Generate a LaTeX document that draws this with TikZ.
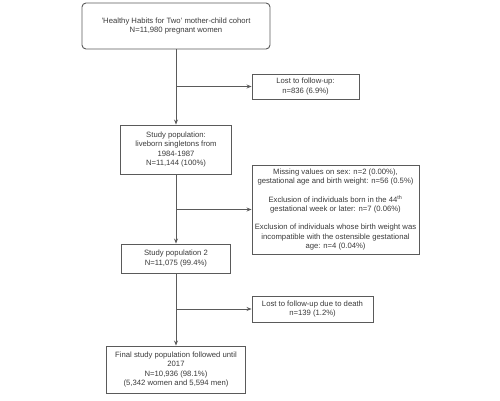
\documentclass[tikz,border=0pt]{standalone}
\usepackage{fontspec}
\setmainfont{Liberation Sans}
\usetikzlibrary{arrows.meta, positioning, calc}
\definecolor{lineGray}{HTML}{5A5A5A}
\definecolor{textGray}{HTML}{3A3A3A}

\begin{document}
\begin{tikzpicture}[
    x=1pt, y=-1pt, >={Stealth[length=5pt, width=4pt]},
    box/.style={rectangle, draw=lineGray, line width=0.9pt, align=center,
                font=\fontsize{7.7}{9.3}\selectfont\color{textGray}, inner sep=1pt},
    start/.style={box, rounded corners=4pt},
    flow/.style={->, draw=lineGray, line width=0.8pt},
  ]
    \useasboundingbox (0,0) rectangle (500,401);

    % main column
    \node[start, minimum width=188pt, minimum height=46pt] (cohort) at (176,26)
      {'Healthy Habits for Two' mother-child cohort\\N=11,980 pregnant women};
    \node[box, minimum width=111pt, minimum height=49pt] (study1) at (176,149.5)
      {Study population:\\liveborn singletons from\\1984-1987\\N=11,144 (100\%)};
    \node[box, minimum width=109pt, minimum height=29pt] (study2) at (176,258.5)
      {Study population 2\\N=11,075 (99.4\%)};
    \node[box, minimum width=139pt, minimum height=47pt] (final) at (176,369.5)
      {Final study population followed until\\2017\\N=10,936 (98.1\%)\\(5,342 women and 5,594 men)};

    % exclusions
    \node[box, minimum width=107pt, minimum height=25pt] (lost1) at (305.5,86.5)
      {Lost to follow-up:\\n=836 (6.9\%)};
    \node[box, minimum width=167pt, minimum height=89pt] (excl) at (335.5,209.5)
      {Missing values on sex: n=2 (0.00\%),\\gestational age and birth weight: n=56 (0.5\%)\\[9pt]
       Exclusion of individuals born in the 44\textsuperscript{th}\\gestational week or later: n=7 (0.06\%)\\[9pt]
       Exclusion of individuals whose birth weight was\\incompatible with the ostensible gestational\\age: n=4 (0.04\%)};
    \node[box, minimum width=121pt, minimum height=26pt] (death) at (312.5,309)
      {Lost to follow-up due to death\\n=139 (1.2\%)};

    % branch points
    \coordinate (b1) at (cohort.south |- lost1.west);
    \coordinate (b2) at (study1.south |- excl.west);
    \coordinate (b3) at (study2.south |- death.west);

    \draw[flow] (cohort) -- (study1);
    \draw[flow] (study1) -- (study2);
    \draw[flow] (study2) -- (final);
    \draw[flow] (b1) -- (lost1);
    \draw[flow] (b2) -- (excl);
    \draw[flow] (b3) -- (death);
  \end{tikzpicture}
\end{document}
